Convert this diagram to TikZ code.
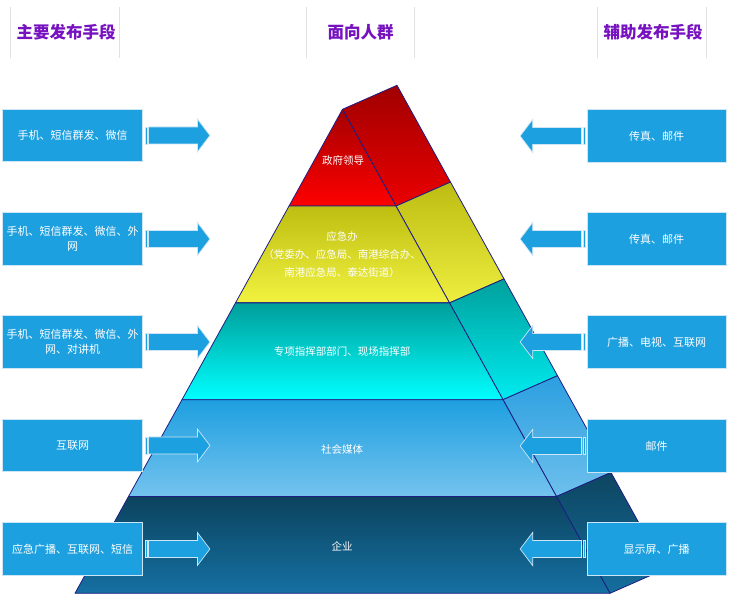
\documentclass[tikz,border=0pt]{standalone}
\usepackage{fontspec}
\setmainfont{Noto Sans CJK SC}
\usetikzlibrary{calc}
\definecolor{boxblue}{RGB}{29,160,224}
\definecolor{boxedge}{RGB}{205,230,245}
\definecolor{titlepurple}{RGB}{118,18,192}
\definecolor{sepgray}{RGB}{225,225,225}
\definecolor{edgenavy}{RGB}{30,30,130}
\definecolor{redT}{RGB}{165,0,0}
\definecolor{redB}{RGB}{255,0,0}
\definecolor{redST}{RGB}{160,0,0}
\definecolor{redSB}{RGB}{235,0,0}
\definecolor{yelT}{RGB}{190,190,18}
\definecolor{yelB}{RGB}{242,242,64}
\definecolor{yelST}{RGB}{188,188,18}
\definecolor{yelSB}{RGB}{238,238,64}
\definecolor{cyaT}{RGB}{0,158,154}
\definecolor{cyaB}{RGB}{0,255,255}
\definecolor{cyaST}{RGB}{0,160,156}
\definecolor{cyaSB}{RGB}{0,235,240}
\definecolor{bluT}{RGB}{30,159,224}
\definecolor{bluB}{RGB}{116,195,238}
\definecolor{bluST}{RGB}{43,159,224}
\definecolor{bluSB}{RGB}{110,192,236}
\definecolor{dkT}{RGB}{12,67,94}
\definecolor{dkB}{RGB}{21,112,162}
\definecolor{dkST}{RGB}{13,69,96}
\definecolor{dkSB}{RGB}{21,110,158}
\tikzset{
  lbox/.style={draw=boxedge, line width=0.8pt, fill=boxblue, text=white,
    minimum width=140pt, minimum height=52.5pt, inner sep=1pt, align=center,
    font=\fontsize{11}{15}\selectfont},
  rbox/.style={lbox, minimum width=138.7pt},
  titletext/.style={text=titlepurple, font=\fontsize{16.5}{18}\selectfont\bfseries, inner sep=0pt},
  pyrtext/.style={text=white, align=center, inner sep=0pt, font=\fontsize{10.5}{18}\selectfont},
  sepline/.style={draw=sepgray, line width=0.8pt},
  facestyle/.style={draw=edgenavy, line width=0.8pt, line join=round},
  arrowshape/.style={fill=boxblue, draw=boxedge, line width=0.7pt},
  striparrow/.pic={
    \path[arrowshape] (0,-8.5) rectangle (2.2,8.5);
    \path[arrowshape] (3.6,-8.5) -- (52.5,-8.5) -- (52.5,-16.5) -- (65,0)
      -- (52.5,16.5) -- (52.5,8.5) -- (3.6,8.5) -- cycle;
  }
}
\begin{document}
\begin{tikzpicture}[x=1pt,y=-1pt]
\useasboundingbox (0,0) rectangle (737,612);
\fill[white] (0,0) rectangle (737,612);

% header
\foreach \sx in {10.4,119.5,306,414,597.5,706}
  \path[sepline] (\sx,7) -- (\sx,58);
\node[titletext] (h1) at (66,32) {主要发布手段};
\node[titletext] (h2) at (360.6,32) {面向人群};
\node[titletext] (h3) at (653,32) {辅助发布手段};

% pyramid
\foreach \yt/\yb/\hl/\hb/\ft/\fb/\st/\sb in {
  109.3/206.1/0/53.5/redT/redB/redST/redSB,
  206.1/302.9/53.5/107/yelT/yelB/yelST/yelSB,
  302.9/399.7/107/160.5/cyaT/cyaB/cyaST/cyaSB,
  399.7/496.5/160.5/214/bluT/bluB/bluST/bluSB,
  496.5/593.3/214/267.5/dkT/dkB/dkST/dkSB}
{
  \path[facestyle, top color=\st, bottom color=\sb]
    (342.5+\hl,\yt) -- (342.5+\hb,\yb) -- (397+\hb,\yb-24) -- (397+\hl,\yt-24) -- cycle;
  \path[facestyle, top color=\ft, bottom color=\fb]
    (342.5-\hl,\yt) -- (342.5+\hl,\yt) -- (342.5+\hb,\yb) -- (342.5-\hb,\yb) -- cycle;
}

\node[pyrtext] (p1) at (343,160) {政府领导};
\node[pyrtext] (p2) at (342,255) {应急办\\（党委办、应急局、南港综合办、\\南港应急局、泰达街道）};
\node[pyrtext] (p3) at (342,352) {专项指挥部部门、现场指挥部};
\node[pyrtext] (p4) at (342,449) {社会媒体};
\node[pyrtext] (p5) at (342,546) {企业};

% left boxes
\node[lbox] (L1) at (72.7,135.5) {手机、短信群发、微信};
\node[lbox] (L2) at (72.7,239) {手机、短信群发、微信、外\\网};
\node[lbox] (L3) at (72.7,342) {手机、短信群发、微信、外\\网、对讲机};
\node[lbox] (L4) at (72.7,445.5) {互联网};
\node[lbox] (L5) at (72.7,549) {应急广播、互联网、短信};

% right boxes
\node[rbox] (R1) at (656.7,136) {传真、邮件};
\node[rbox] (R2) at (656.7,239) {传真、邮件};
\node[rbox] (R3) at (656.7,342) {广播、电视、互联网};
\node[rbox] (R4) at (656.7,446) {邮件};
\node[rbox] (R5) at (656.7,549) {显示屏、广播};

% arrows
\foreach \n in {1,...,5} {
  \pic at ($(L\n.east)+(1.8,0)$) {striparrow};
  \pic[xscale=-1] at ($(R\n.west)+(-1.8,0)$) {striparrow};
}
\end{tikzpicture}
\end{document}
